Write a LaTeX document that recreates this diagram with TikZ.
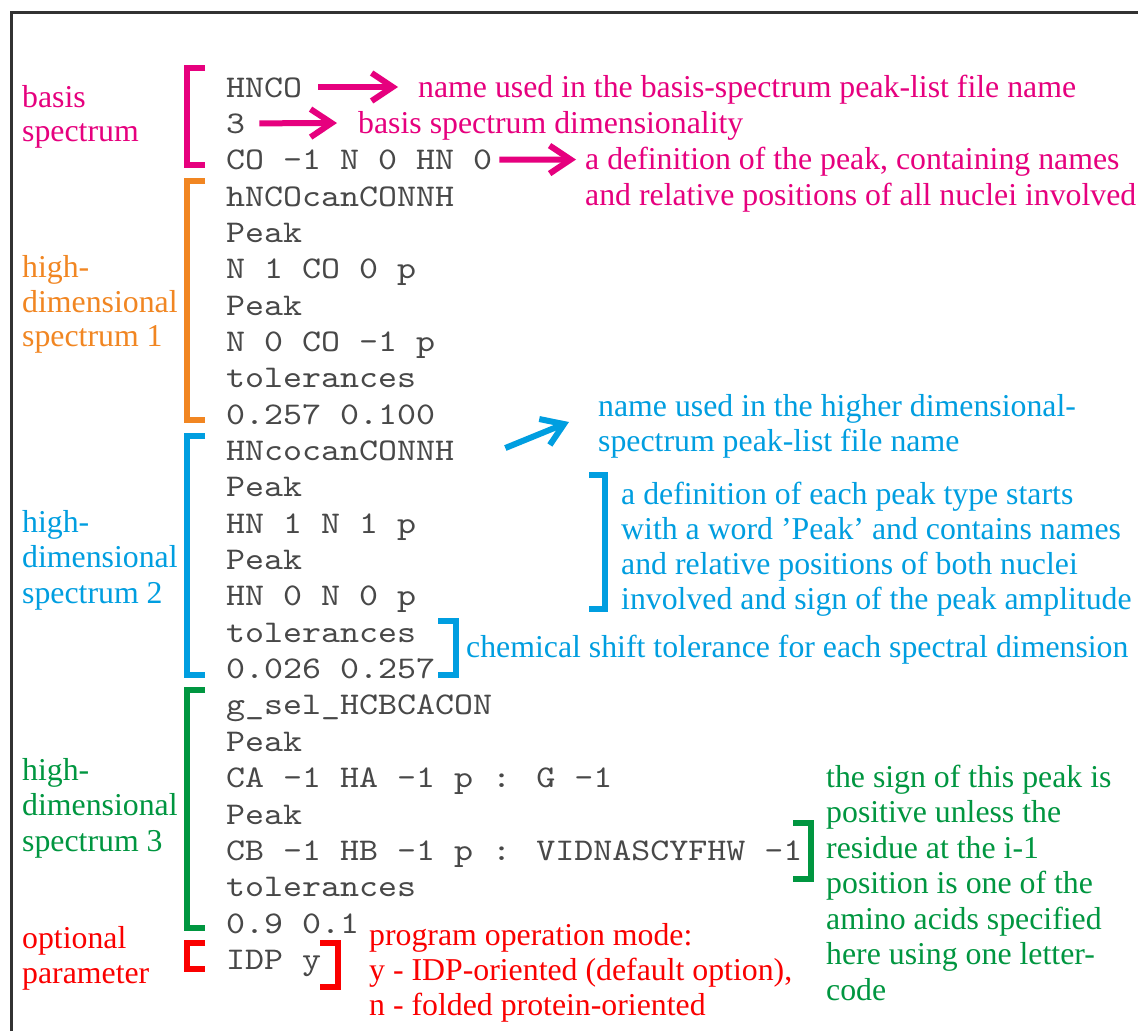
\documentclass[tikz,border=0pt]{standalone}
\usepackage{fontspec}
\setmainfont{Liberation Serif}
\newfontfamily\codefont{lmmono10-regular.otf}[FakeStretch=1.145]
\usetikzlibrary{arrows.meta}
\definecolor{cmag}{RGB}{230,0,126}
\definecolor{corg}{RGB}{241,134,34}
\definecolor{cblu}{RGB}{0,158,224}
\definecolor{cgrn}{RGB}{0,150,64}
\definecolor{cred}{RGB}{250,0,0}
\definecolor{ctxt}{RGB}{72,72,72}
\definecolor{cfrm}{RGB}{50,50,50}
\begin{document}
\begin{tikzpicture}[x=1pt,y=-1pt,
  code/.style={anchor=base west,inner sep=0pt,text=ctxt,font=\fontsize{31.6}{36}\selectfont\codefont,text height=24pt,text depth=4pt},
  lab/.style={anchor=base west,inner sep=0pt,font=\fontsize{31.8}{35}\selectfont,text height=24pt,text depth=4pt},
  brk/.style={line width=6.5pt,miter limit=10},
  arr/.style={line width=6pt,-{Straight Barb[length=21pt,width=28pt]}}
]
\useasboundingbox (0,0) rectangle (1138,1031);
\fill[white] (0,0) rectangle (1138,1031);
\draw[cfrm,line width=3pt] (11.5,1031) -- (11.5,12) -- (1138,12);

% code lines
\foreach \t [count=\i from 1] in {HNCO,3,CO -1 N 0 HN 0,hNCOcanCONNH,Peak,N 1 CO 0 p,Peak,N 0 CO -1 p,tolerances,0.257 0.100,HNcocanCONNH,Peak,HN 1 N 1 p,Peak,HN 0 N 0 p,tolerances,0.026 0.257,g\_sel\_HCBCACON,Peak,CA -1 HA -1 p : G -1,Peak,CB -1 HB -1 p : VIDNASCYFHW -1,tolerances,0.9 0.1,IDP y}
  \node[code] (l\i) at (226,{97+36.35*(\i-1)}) {\t};

% left labels
\node[lab,text=cmag] (ma) at (22,107) {basis};
\node[lab,text=cmag] (mb) at (22,141) {spectrum};
\node[lab,text=corg] (oa) at (22,277) {high-};
\node[lab,text=corg] (ob) at (22,312) {dimensional};
\node[lab,text=corg] (oc) at (22,346) {spectrum 1};
\node[lab,text=cblu] (ba) at (22,532) {high-};
\node[lab,text=cblu] (bb) at (22,567) {dimensional};
\node[lab,text=cblu] (bc) at (22,603) {spectrum 2};
\node[lab,text=cgrn] (ga) at (22,780) {high-};
\node[lab,text=cgrn] (gb) at (22,815) {dimensional};
\node[lab,text=cgrn] (gc) at (22,851) {spectrum 3};
\node[lab,text=cred] (ra) at (22,948) {optional};
\node[lab,text=cred] (rb) at (22,983) {parameter};

% brackets
\draw[brk,cmag] (205,68) -- (187,68) -- (187,165) -- (205,165);
\draw[brk,corg] (205,181) -- (187,181) -- (187,420) -- (205,420);
\draw[brk,cblu] (205,436) -- (187,436) -- (187,675) -- (205,675);
\draw[brk,cgrn] (205,690) -- (187,690) -- (187,928) -- (205,928);
\draw[brk,cred] (205,943) -- (187,943) -- (187,969) -- (205,969);
\draw[brk,cred] (320,943) -- (338,943) -- (338,987) -- (320,987);
\draw[brk,cblu] (438,621) -- (456,621) -- (456,675) -- (438,675);
\draw[brk,cblu] (589,475) -- (605,475) -- (605,609) -- (589,609);
\draw[brk,cgrn] (793,823) -- (811,823) -- (811,879) -- (793,879);

% right-hand texts
\node[lab,text=cmag] (m1) at (418,97) {name used in the basis-spectrum peak-list file name};
\node[lab,text=cmag] (m2) at (358,133) {basis spectrum dimensionality};
\node[lab,text=cmag] (m3) at (585,169.5) {a definition of the peak, containing names};
\node[lab,text=cmag] (m4) at (585,205) {and relative positions of all nuclei involved};
\node[lab,text=cblu] (b1) at (598,416) {name used in the higher dimensional-};
\node[lab,text=cblu] (b2) at (598,451) {spectrum peak-list file name};
\node[lab,text=cblu] (b3) at (621,504) {a definition of each peak type starts};
\node[lab,text=cblu] (b4) at (621,539) {with a word ’Peak’ and contains names};
\node[lab,text=cblu] (b5) at (621,574) {and relative positions of both nuclei};
\node[lab,text=cblu] (b6) at (621,609) {involved and sign of the peak amplitude};
\node[lab,text=cblu] (b7) at (466,657) {chemical shift tolerance for each spectral dimension};
\node[lab,text=cgrn] (g1) at (826,787) {the sign of this peak is};
\node[lab,text=cgrn] (g2) at (826,822.5) {positive unless the};
\node[lab,text=cgrn] (g3) at (826,858) {residue at the i-1};
\node[lab,text=cgrn] (g4) at (826,893.5) {position is one of the};
\node[lab,text=cgrn] (g5) at (826,929) {amino acids specified};
\node[lab,text=cgrn] (g6) at (826,964.5) {here using one letter-};
\node[lab,text=cgrn] (g7) at (826,1000) {code};
\node[lab,text=cred] (r1) at (369,945) {program operation mode:};
\node[lab,text=cred] (r2) at (369,980) {y - IDP-oriented (default option),};
\node[lab,text=cred] (r3) at (369,1015) {n - folded protein-oriented};

% arrows
\draw[arr,cmag] ([xshift=16pt]l1.east) -- ([xshift=-20pt]m1.west);
\draw[arr,cmag] ([xshift=14pt]l2.east) -- ([xshift=-21pt]m2.west);
\draw[arr,cmag] ([xshift=7pt]l3.east) -- ([xshift=-9pt]m3.west);
\draw[arr,cblu] ([shift={(51,-2.5)}]l11.east) -- ([shift={(-29,16)}]b1.west);
\end{tikzpicture}
\end{document}
